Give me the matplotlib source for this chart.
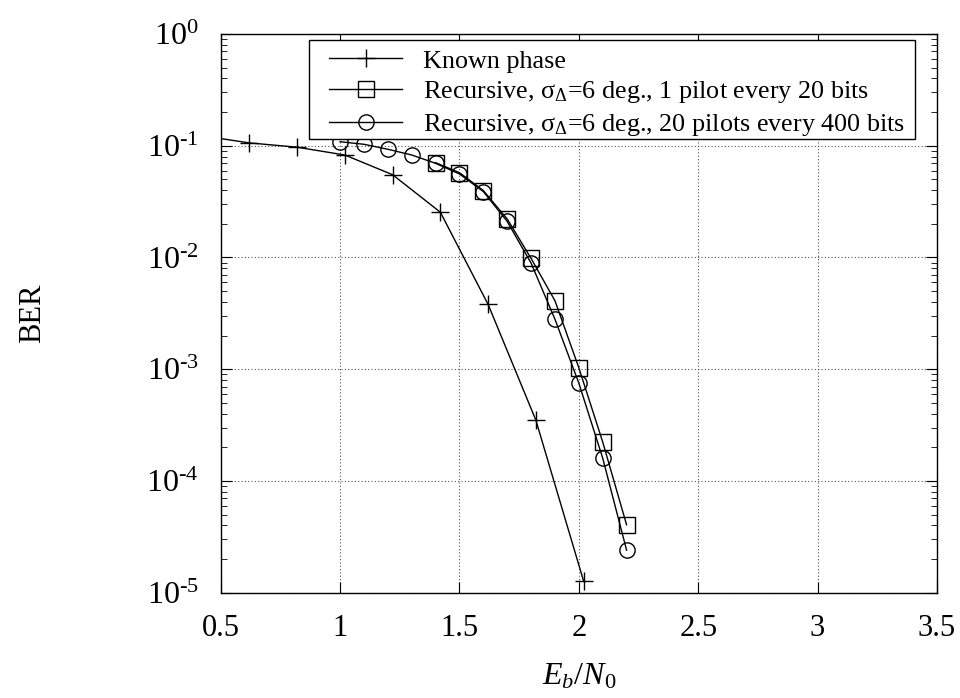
import numpy as np
import matplotlib
matplotlib.use("Agg")
import matplotlib.pyplot as plt
from matplotlib.patches import Rectangle
from matplotlib.ticker import LogLocator, FuncFormatter, NullFormatter, FixedLocator

plt.rcParams["font.family"] = ["Liberation Serif", "DejaVu Serif"]
plt.rcParams["mathtext.fontset"] = "custom"
plt.rcParams["mathtext.rm"] = "Liberation Serif"
plt.rcParams["mathtext.it"] = "Liberation Serif:italic"
plt.rcParams["mathtext.bf"] = "Liberation Serif:bold"

# Known phase
ebn0_known = [0.42, 0.62, 0.82, 1.02, 1.22, 1.42, 1.62, 1.82, 2.02]
ber_known = [0.123, 0.106, 0.097, 0.0826, 0.055, 0.0254, 0.0038, 3.5e-4, 1.27e-5]

# Recursive, 1 pilot every 20 bits
ebn0_rec1 = [1.4, 1.5, 1.6, 1.7, 1.8, 1.9, 2.0, 2.1, 2.2]
ber_rec1 = [0.0705, 0.0574, 0.0397, 0.0221, 0.0098, 0.0041, 1.03e-3, 2.23e-4, 4.05e-5]

# Recursive, 20 pilots every 400 bits
ebn0_rec20 = [1.0, 1.1, 1.2, 1.3, 1.4, 1.5, 1.6, 1.7, 1.8, 1.9, 2.0, 2.1, 2.2]
ber_rec20 = [0.1086, 0.103, 0.093, 0.0826, 0.0696, 0.0559, 0.0389, 0.021,
             8.9e-3, 2.8e-3, 7.5e-4, 1.6e-4, 2.4e-5]

labels = [
    "Known phase",
    r"Recursive, $\mathrm{\sigma}_{\Delta}$=6 deg., 1 pilot every 20 bits",
    r"Recursive, $\mathrm{\sigma}_{\Delta}$=6 deg., 20 pilots every 400 bits",
]

x_ticks = [0.5, 1, 1.5, 2, 2.5, 3, 3.5]
x_ticklabels = ["0.5", "1", "1.5", "2", "2.5", "3", "3.5"]


def decade_label(val, pos):
    exp = int(round(np.log10(val)))
    if exp < 0:
        return r"$10^{\text{-}%d}$" % (-exp)
    return r"$10^{%d}$" % exp


fig = plt.figure(figsize=(9.6, 6.98), dpi=100)
ax = fig.add_axes([0.2299, 0.1509, 0.976 - 0.2299, 0.9513 - 0.1509])

lw = 1.0
ax.plot(ebn0_known, ber_known, color="black", lw=lw, marker="+", ms=13,
        mew=1.0, label=labels[0])
ax.plot(ebn0_rec1, ber_rec1, color="black", lw=lw, marker="s", ms=11,
        mfc="none", mew=1.0, label=labels[1])
ax.plot(ebn0_rec20, ber_rec20, color="black", lw=lw, marker="o", ms=11,
        mfc="none", mew=1.0, label=labels[2])

ax.set_yscale("log")
ax.set_xlim(0.5, 3.5)
ax.set_ylim(1e-5, 1)

ax.xaxis.set_major_locator(FixedLocator(x_ticks))
ax.set_xticklabels(x_ticklabels)
ax.yaxis.set_major_locator(LogLocator(base=10, numticks=10))
ax.yaxis.set_minor_locator(LogLocator(base=10, subs=np.arange(2, 10), numticks=10))
ax.yaxis.set_major_formatter(FuncFormatter(decade_label))
ax.yaxis.set_minor_formatter(NullFormatter())

ax.tick_params(which="both", direction="in", top=True, right=True)
ax.tick_params(which="major", length=8, width=0.8)
ax.tick_params(which="minor", length=4, width=0.6)
ax.tick_params(axis="x", which="major", labelsize=22, pad=15)
ax.tick_params(axis="y", which="major", labelsize=23, pad=16)

ax.grid(True, which="major", linestyle=(0, (1, 2)), color="#555555", lw=0.8)
for s in ax.spines.values():
    s.set_linewidth(1.0)

ax.set_xlabel(r"$E_b/N_0$", fontsize=23, labelpad=14)
ax.set_ylabel("BER", fontsize=22, labelpad=71)

# Legend frame drawn as a separate box, entries placed inside it
ax.add_patch(Rectangle((0.1233, 0.8121), 0.9693 - 0.1233, 0.9893 - 0.8121,
                       transform=ax.transAxes, facecolor="white",
                       edgecolor="black", lw=1.0, zorder=4))
leg = ax.legend(loc="upper left", bbox_to_anchor=(0.1512, 0.9725), fontsize=18.8,
                frameon=False, handlelength=2.8, borderpad=0, labelspacing=0.25,
                handletextpad=0.8, borderaxespad=0)
leg.set_zorder(5)

fig.savefig("out.png", dpi=100)
